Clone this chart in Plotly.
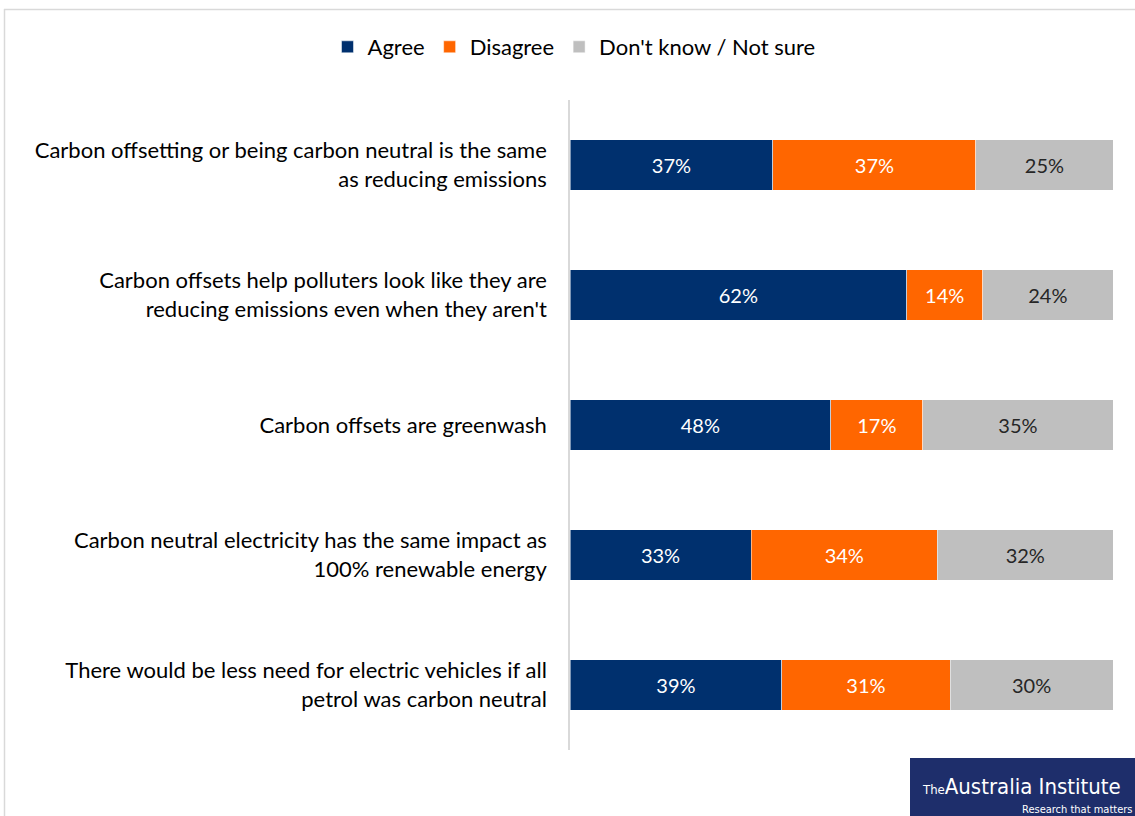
import plotly.graph_objects as go

categories = [
    "Carbon offsetting or being carbon neutral is the same<br>as reducing emissions",
    "Carbon offsets help polluters look like they are<br>reducing emissions even when they aren't",
    "Carbon offsets are greenwash",
    "Carbon neutral electricity has the same impact as<br>100% renewable energy",
    "There would be less need for electric vehicles if all<br>petrol was carbon neutral",
]
agree = [37, 62, 48, 33, 39]
disagree = [37, 14, 17, 34, 31]
dont_know = [25, 24, 35, 32, 30]

series = [
    ("Agree", agree, "#00306E", "white"),
    ("Disagree", disagree, "#FF6600", "white"),
    ("Don't know / Not sure", dont_know, "#BFBFBF", "#262626"),
]

FONT = "Lato"
LOGO_FONT = "Liberation Sans Narrow, DejaVu Sans Condensed, Roboto Condensed, Roboto"
W, H = 1135, 816
L, R, T, B = 570, 22, 100, 66
pw, ph = W - L - R, H - T - B

def px(x):
    return (x - L) / pw

def py(y):
    return (H - B - y) / ph

fig = go.Figure()
for name, vals, color, tcolor in series:
    fig.add_trace(go.Bar(
        y=categories, x=vals, name=name, orientation="h",
        marker=dict(color=color, line=dict(color="white", width=0.5)),
        text=[f"{v}%" for v in vals], textposition="inside",
        insidetextanchor="middle", textangle=0,
        textfont=dict(family=FONT, size=20, color=tcolor),
        hoverinfo="skip",
    ))

shapes = [
    dict(type="line", xref="paper", yref="paper", x0=px(4), x1=px(1140), y0=py(9.5), y1=py(9.5),
         line=dict(color="#D9D9D9", width=1.5)),
    dict(type="line", xref="paper", yref="paper", x0=px(4.5), x1=px(4.5), y0=py(9), y1=py(820),
         line=dict(color="#D9D9D9", width=1.5)),
    dict(type="rect", xref="paper", yref="paper", x0=px(910), x1=px(1140), y0=py(758), y1=py(820),
         fillcolor="#1E2E6B", line=dict(width=0)),
]

annotations = [
    dict(xref="paper", yref="paper", x=px(920), y=py(786), xanchor="left", yanchor="middle",
         text="<span style='font-size:13px'>The</span>Australia Institute", showarrow=False,
         font=dict(family=LOGO_FONT, size=22, color="white")),
    dict(xref="paper", yref="paper", x=px(1134), y=py(809), xanchor="right", yanchor="middle",
         text="Research that matters", showarrow=False,
         font=dict(family=LOGO_FONT, size=11, color="white")),
]

fig.update_layout(
    width=W, height=H,
    barmode="stack", barnorm="percent", bargap=0.61,
    margin=dict(l=L, r=R, t=T, b=B, autoexpand=False),
    plot_bgcolor="white", paper_bgcolor="white",
    font=dict(family=FONT, size=22, color="black"),
    legend=dict(orientation="h", x=px(574), xanchor="center", y=py(47), yanchor="middle",
                font=dict(family=FONT, size=22, color="black"), traceorder="normal",
                itemwidth=30, bgcolor="rgba(0,0,0,0)"),
    shapes=shapes, annotations=annotations,
    showlegend=True,
)
fig.update_xaxes(range=[0, 100], visible=False, showgrid=False)
fig.update_yaxes(autorange="reversed", showgrid=False, showline=True, linecolor="#D9D9D9",
                 linewidth=1.5, ticks="", ticklabelstandoff=17,
                 tickfont=dict(family=FONT, size=22, color="black"))

fig.write_html("out.html", config={"displayModeBar": False},
               post_script="document.body.style.margin='0';document.body.style.overflow='hidden';")
